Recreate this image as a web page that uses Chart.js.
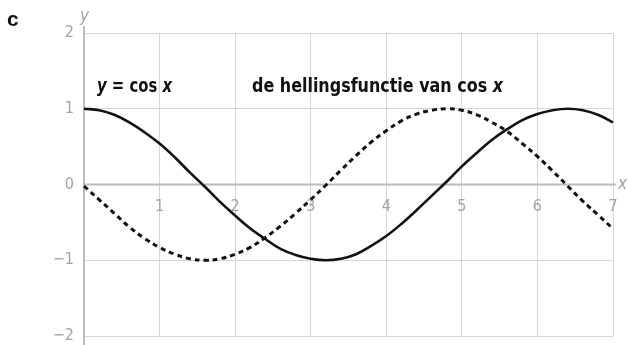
<!DOCTYPE html>
<html>
<head>
<meta charset="utf-8">
<script src="https://cdn.jsdelivr.net/npm/chart.js@4/dist/chart.umd.min.js"></script>
<style>
	html, body { margin: 0; padding: 0; background: #fff; }
	#wrap { width: 628px; height: 345px; position: relative; }
</style>
</head>
<body>
<div id="wrap"><canvas id="chart_cos"></canvas></div>
<script>
'use strict';

// x-waarden en de twee grafieken
const xValues = [0, 0.2, 0.4, 0.6, 0.8, 1.0, 1.2, 1.4, 1.6, 1.8, 2.0, 2.2, 2.4, 2.6, 2.8, 3.0, 3.2, 3.4, 3.6, 3.8,
	4.0, 4.2, 4.4, 4.6, 4.8, 5.0, 5.2, 5.4, 5.6, 5.8, 6.0, 6.2, 6.4, 6.6, 6.8, 7.0, 7.1];
const cosValues = [1.00, 0.98, 0.92, 0.82, 0.69, 0.54, 0.36, 0.16, -0.03, -0.23, -0.41, -0.58, -0.72, -0.85, -0.93, -0.98, -1.00, -0.98, -0.92, -0.81,
	-0.68, -0.52, -0.34, -0.15, 0.04, 0.24, 0.42, 0.59, 0.73, 0.85, 0.93, 0.98, 1.00, 0.98, 0.92, 0.82, 0.76];
const slopeValues = [-0.02, -0.20, -0.38, -0.56, -0.71, -0.83, -0.92, -0.98, -1.00, -0.98, -0.92, -0.83, -0.70, -0.55, -0.38, -0.20, -0.01, 0.19, 0.38, 0.56,
	0.71, 0.84, 0.93, 0.98, 1.00, 0.98, 0.92, 0.82, 0.70, 0.54, 0.37, 0.18, -0.02, -0.22, -0.40, -0.58, -0.66];

const xTicks = [1, 2, 3, 4, 5, 6, 7];
const yTicks = [-2, -1, 0, 1, 2];

const GREY_TEXT = '#a3a3a3';
const GRID = '#d6d6d6';
const AXIS = '#bcbcbc';
const NARROW = '"Liberation Sans Narrow", "DejaVu Sans Condensed", sans-serif';

function toPoints(ys) {
	return xValues.map((x, i) => ({x: x, y: ys[i]}));
}

// tekst in stukken (vet / cursief) tekenen, samengedrukt tot een vaste breedte
function drawParts(ctx, parts, left, baseline, width) {
	let natural = 0;
	parts.forEach(p => {
		ctx.font = p.font;
		natural += ctx.measureText(p.text).width;
	});
	ctx.save();
	ctx.translate(left, baseline);
	ctx.scale(width / natural, 1);
	let pos = 0;
	parts.forEach(p => {
		ctx.font = p.font;
		ctx.fillText(p.text, pos, 0);
		pos += ctx.measureText(p.text).width;
	});
	ctx.restore();
}

// geen extra ruimte voor uitstekende labels, de marges liggen vast
function noLabelPadding(scale) {
	scale.paddingTop = 0;
	scale.paddingBottom = 0;
	scale.paddingLeft = 0;
	scale.paddingRight = 0;
}

const axesPlugin = {
	id: 'axesPlugin',
	beforeDatasetsDraw(chart) {
		let ctx = chart.ctx,
			xs = chart.scales.x,
			ys = chart.scales.y,
			x0 = xs.getPixelForValue(0),
			y0 = ys.getPixelForValue(0);
		ctx.save();
		ctx.strokeStyle = AXIS;
		ctx.lineWidth = 2;
		ctx.beginPath();
		ctx.moveTo(x0, 26);
		ctx.lineTo(x0, chart.height);
		ctx.moveTo(x0, y0);
		ctx.lineTo(xs.getPixelForValue(7.04), y0);
		ctx.stroke();
		ctx.restore();
	},
	afterDraw(chart) {
		let ctx = chart.ctx,
			xs = chart.scales.x,
			ys = chart.scales.y;
		ctx.save();
		ctx.textBaseline = 'alphabetic';
		ctx.textAlign = 'left';

		// asnamen
		ctx.fillStyle = GREY_TEXT;
		ctx.font = 'italic 17px ' + NARROW;
		ctx.fillText('y', xs.getPixelForValue(0) - 4, 21);
		ctx.fillText('x', xs.getPixelForValue(7) + 5, ys.getPixelForValue(0) + 4);

		// letter van de opgave
		ctx.fillStyle = '#111';
		ctx.font = 'bold 21px "Liberation Sans", sans-serif';
		ctx.fillText('c', 7, 26);

		// namen van de grafieken
		let bold = 'bold 19px ' + NARROW,
			boldItalic = 'italic bold 19px ' + NARROW;
		drawParts(ctx, [
			{text: 'y', font: boldItalic},
			{text: ' = cos ', font: bold},
			{text: 'x', font: boldItalic},
		], 97, 92, 75);
		drawParts(ctx, [
			{text: 'de hellingsfunctie van cos ', font: bold},
			{text: 'x', font: boldItalic},
		], 252, 92, 251);
		ctx.restore();
	},
};

let config = {
	type: 'line',
	data: {
		datasets: [{
			label: 'y = cos x',
			data: toPoints(cosValues),
			borderColor: '#111',
			borderWidth: 2.6,
			pointRadius: 0,
			tension: 0.4,
			clip: false,
		}, {
			label: 'de hellingsfunctie van cos x',
			data: toPoints(slopeValues),
			borderColor: '#111',
			borderWidth: 3,
			borderDash: [5, 4],
			pointRadius: 0,
			tension: 0.4,
			clip: false,
		}],
	},
	options: {
		responsive: true,
		maintainAspectRatio: false,
		animation: false,
		layout: {
			padding: {top: 33, right: 15, bottom: 9, left: 0},
		},
		plugins: {
			legend: {display: false},
			tooltip: {enabled: false},
			title: {display: false},
		},
		scales: {
			x: {
				type: 'linear',
				position: {y: 0},
				min: 0,
				max: 7,
				afterBuildTicks: scale => {
					scale.ticks = [0].concat(xTicks).map(v => ({value: v}));
				},
				afterFit: scale => {
					scale.height = 0;
					noLabelPadding(scale);
				},
				grid: {color: GRID, lineWidth: 1, drawTicks: false},
				border: {display: false},
				ticks: {
					color: GREY_TEXT,
					font: {family: NARROW, size: 16},
					padding: 13,
					maxRotation: 0,
					callback: v => v === 0 ? '' : String(v),
				},
			},
			y: {
				type: 'linear',
				min: -2,
				max: 2,
				afterBuildTicks: scale => {
					scale.ticks = yTicks.map(v => ({value: v}));
				},
				afterFit: scale => {
					scale.width = 84;
					noLabelPadding(scale);
				},
				grid: {color: GRID, lineWidth: 1, drawTicks: false},
				border: {display: false},
				ticks: {
					color: GREY_TEXT,
					font: {family: NARROW, size: 16},
					padding: 10,
					callback: v => v < 0 ? '\u2212' + Math.abs(v) : String(v),
				},
			},
		},
	},
	plugins: [axesPlugin],
};

window.ChartCos = new Chart(document.getElementById('chart_cos').getContext('2d'), config);
</script>
</body>
</html>
